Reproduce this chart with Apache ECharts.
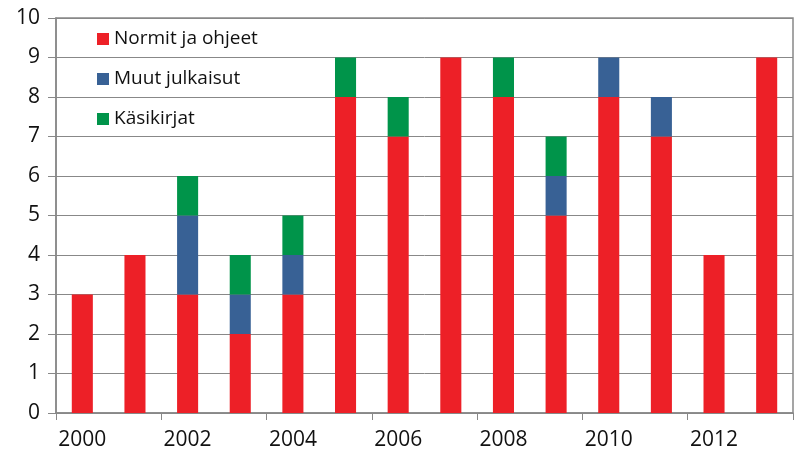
<!DOCTYPE html>
<html>
<head>
<meta charset="utf-8">
<script src="https://cdn.jsdelivr.net/npm/echarts@6/dist/echarts.min.js"></script>
<style>
  html, body { margin: 0; padding: 0; background: #fff; }
  #chart { width: 795px; height: 459px; }
</style>
</head>
<body>
<div id="chart"></div>
<script>
// vuodet ja sarjat
const years = ['2000', '2001', '2002', '2003', '2004', '2005', '2006', '2007', '2008', '2009', '2010', '2011', '2012', '2013'];
const normit = [3, 4, 3, 2, 3, 8, 7, 9, 8, 5, 8, 7, 4, 9];
const muut = [0, 0, 2, 1, 1, 0, 0, 0, 0, 1, 1, 1, 0, 0];
const kasikirjat = [0, 0, 1, 1, 1, 1, 1, 0, 1, 1, 0, 0, 0, 0];
const seriesNames = ['Normit ja ohjeet', 'Muut julkaisut', 'Käsikirjat'];

const font = 'Open Sans, Liberation Sans, sans-serif';

const chart = echarts.init(document.getElementById('chart'));

function bar(name, data, color) {
  return {
    name: name,
    type: 'bar',
    stack: 'total',
    barWidth: '40%',
    itemStyle: { color: color },
    data: data.map(v => (v === 0 ? null : v))
  };
}

const option = {
  animation: false,
  grid: {
    left: 56,
    right: 2,
    top: 18,
    bottom: 46,
    show: true,
    borderColor: '#888',
    borderWidth: 1.5
  },
  legend: {
    orient: 'vertical',
    left: 92,
    top: 24,
    itemGap: 20,
    itemWidth: 12,
    itemHeight: 12,
    icon: 'rect',
    textStyle: { fontFamily: font, fontSize: 19, lineHeight: 20, color: '#111' },
    data: seriesNames
  },
  xAxis: {
    type: 'category',
    data: years,
    axisLine: { lineStyle: { color: '#888', width: 1.5 } },
    axisTick: { show: true, length: 7, lineStyle: { color: '#888' } },
    axisLabel: {
      interval: 1,
      margin: 17,
      fontFamily: font,
      fontSize: 21,
      color: '#111'
    }
  },
  yAxis: {
    type: 'value',
    min: 0,
    max: 10,
    interval: 1,
    axisLine: { show: true, lineStyle: { color: '#888', width: 1.5 } },
    axisTick: { show: true, length: 8, lineStyle: { color: '#888' } },
    splitLine: { lineStyle: { color: '#888', width: 1 } },
    axisLabel: {
      margin: 16,
      fontFamily: font,
      fontSize: 21,
      color: '#111'
    }
  },
  series: [
    bar(seriesNames[0], normit, '#ED2027'),
    bar(seriesNames[1], muut, '#386195'),
    bar(seriesNames[2], kasikirjat, '#00944A')
  ]
};

chart.setOption(option);
</script>
</body>
</html>
